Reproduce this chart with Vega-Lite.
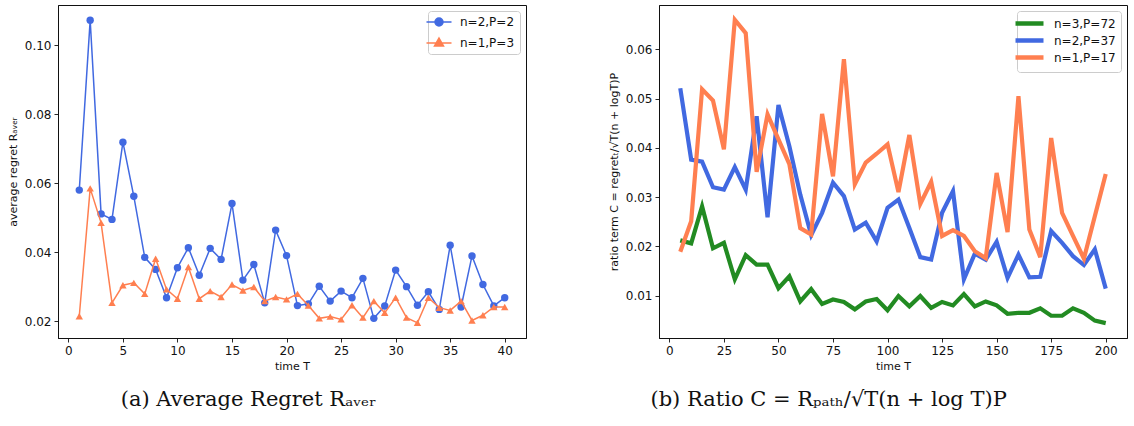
{
  "$schema": "https://vega.github.io/schema/vega-lite/v6.json",
  "background": "white",
  "padding": {"left": 6, "top": 4, "right": 5, "bottom": 5},
  "spacing": 80,
  "resolve": {"scale": {"color": "independent"}, "legend": {"color": "independent"}},
  "config": {
    "view": {"stroke": "#111", "strokeWidth": 1},
    "axis": {"grid": false, "domainColor": "#111", "domainWidth": 1, "tickColor": "#111", "tickSize": 4, "tickWidth": 0.9,
      "labelFont": "DejaVu Sans", "labelFontSize": 12, "labelColor": "#111", "labelPadding": 3,
      "titleFont": "DejaVu Sans", "titleFontSize": 11, "titleFontWeight": "normal", "titleColor": "#111"},
    "legend": {"labelFont": "DejaVu Sans", "labelFontSize": 12, "labelColor": "#111", "fillColor": "white", "strokeColor": "#cccccc",
      "cornerRadius": 3, "padding": 5, "rowPadding": 5, "orient": "top-right", "offset": 6, "title": null}
  },
  "datasets": {
    "a": [
      {"T":1,"s":"n=2,P=2","v":0.058},{"T":2,"s":"n=2,P=2","v":0.1073},{"T":3,"s":"n=2,P=2","v":0.0511},{"T":4,"s":"n=2,P=2","v":0.0495},{"T":5,"s":"n=2,P=2","v":0.0719},
      {"T":6,"s":"n=2,P=2","v":0.0562},{"T":7,"s":"n=2,P=2","v":0.0385},{"T":8,"s":"n=2,P=2","v":0.035},{"T":9,"s":"n=2,P=2","v":0.0268},{"T":10,"s":"n=2,P=2","v":0.0355},
      {"T":11,"s":"n=2,P=2","v":0.0413},{"T":12,"s":"n=2,P=2","v":0.0333},{"T":13,"s":"n=2,P=2","v":0.0411},{"T":14,"s":"n=2,P=2","v":0.0379},{"T":15,"s":"n=2,P=2","v":0.0541},
      {"T":16,"s":"n=2,P=2","v":0.0319},{"T":17,"s":"n=2,P=2","v":0.0364},{"T":18,"s":"n=2,P=2","v":0.0253},{"T":19,"s":"n=2,P=2","v":0.0464},{"T":20,"s":"n=2,P=2","v":0.039},
      {"T":21,"s":"n=2,P=2","v":0.0245},{"T":22,"s":"n=2,P=2","v":0.025},{"T":23,"s":"n=2,P=2","v":0.0301},{"T":24,"s":"n=2,P=2","v":0.0258},{"T":25,"s":"n=2,P=2","v":0.0287},
      {"T":26,"s":"n=2,P=2","v":0.0268},{"T":27,"s":"n=2,P=2","v":0.0324},{"T":28,"s":"n=2,P=2","v":0.0208},{"T":29,"s":"n=2,P=2","v":0.0244},{"T":30,"s":"n=2,P=2","v":0.0348},
      {"T":31,"s":"n=2,P=2","v":0.03},{"T":32,"s":"n=2,P=2","v":0.0246},{"T":33,"s":"n=2,P=2","v":0.0285},{"T":34,"s":"n=2,P=2","v":0.0234},{"T":35,"s":"n=2,P=2","v":0.042},
      {"T":36,"s":"n=2,P=2","v":0.0241},{"T":37,"s":"n=2,P=2","v":0.0389},{"T":38,"s":"n=2,P=2","v":0.0306},{"T":39,"s":"n=2,P=2","v":0.0244},{"T":40,"s":"n=2,P=2","v":0.0268},
      {"T":1,"s":"n=1,P=3","v":0.0214},{"T":2,"s":"n=1,P=3","v":0.0585},{"T":3,"s":"n=1,P=3","v":0.0485},{"T":4,"s":"n=1,P=3","v":0.0253},{"T":5,"s":"n=1,P=3","v":0.0304},
      {"T":6,"s":"n=1,P=3","v":0.0311},{"T":7,"s":"n=1,P=3","v":0.0279},{"T":8,"s":"n=1,P=3","v":0.0381},{"T":9,"s":"n=1,P=3","v":0.0292},{"T":10,"s":"n=1,P=3","v":0.0265},
      {"T":11,"s":"n=1,P=3","v":0.0357},{"T":12,"s":"n=1,P=3","v":0.0265},{"T":13,"s":"n=1,P=3","v":0.0287},{"T":14,"s":"n=1,P=3","v":0.027},{"T":15,"s":"n=1,P=3","v":0.0306},
      {"T":16,"s":"n=1,P=3","v":0.0289},{"T":17,"s":"n=1,P=3","v":0.0299},{"T":18,"s":"n=1,P=3","v":0.0258},{"T":19,"s":"n=1,P=3","v":0.027},{"T":20,"s":"n=1,P=3","v":0.0263},
      {"T":21,"s":"n=1,P=3","v":0.0279},{"T":22,"s":"n=1,P=3","v":0.0245},{"T":23,"s":"n=1,P=3","v":0.0208},{"T":24,"s":"n=1,P=3","v":0.0213},{"T":25,"s":"n=1,P=3","v":0.0205},
      {"T":26,"s":"n=1,P=3","v":0.0246},{"T":27,"s":"n=1,P=3","v":0.021},{"T":28,"s":"n=1,P=3","v":0.0258},{"T":29,"s":"n=1,P=3","v":0.0224},{"T":30,"s":"n=1,P=3","v":0.0268},
      {"T":31,"s":"n=1,P=3","v":0.021},{"T":32,"s":"n=1,P=3","v":0.0195},{"T":33,"s":"n=1,P=3","v":0.0268},{"T":34,"s":"n=1,P=3","v":0.0239},{"T":35,"s":"n=1,P=3","v":0.0231},
      {"T":36,"s":"n=1,P=3","v":0.0258},{"T":37,"s":"n=1,P=3","v":0.0202},{"T":38,"s":"n=1,P=3","v":0.0217},{"T":39,"s":"n=1,P=3","v":0.0241},{"T":40,"s":"n=1,P=3","v":0.0241}
    ],
    "b": [
      {"T":5,"s":"n=3,P=72","v":0.0212},{"T":10,"s":"n=3,P=72","v":0.0206},{"T":15,"s":"n=3,P=72","v":0.0281},{"T":20,"s":"n=3,P=72","v":0.0196},{"T":25,"s":"n=3,P=72","v":0.0207},
      {"T":30,"s":"n=3,P=72","v":0.0133},{"T":35,"s":"n=3,P=72","v":0.0182},{"T":40,"s":"n=3,P=72","v":0.0163},{"T":45,"s":"n=3,P=72","v":0.0163},{"T":50,"s":"n=3,P=72","v":0.0115},
      {"T":55,"s":"n=3,P=72","v":0.0139},{"T":60,"s":"n=3,P=72","v":0.0088},{"T":65,"s":"n=3,P=72","v":0.0113},{"T":70,"s":"n=3,P=72","v":0.0083},{"T":75,"s":"n=3,P=72","v":0.0092},
      {"T":80,"s":"n=3,P=72","v":0.0087},{"T":85,"s":"n=3,P=72","v":0.0072},{"T":90,"s":"n=3,P=72","v":0.0088},{"T":95,"s":"n=3,P=72","v":0.0093},{"T":100,"s":"n=3,P=72","v":0.007},
      {"T":105,"s":"n=3,P=72","v":0.0099},{"T":110,"s":"n=3,P=72","v":0.0078},{"T":115,"s":"n=3,P=72","v":0.0099},{"T":120,"s":"n=3,P=72","v":0.0075},{"T":125,"s":"n=3,P=72","v":0.0087},
      {"T":130,"s":"n=3,P=72","v":0.008},{"T":135,"s":"n=3,P=72","v":0.0103},{"T":140,"s":"n=3,P=72","v":0.0078},{"T":145,"s":"n=3,P=72","v":0.0088},{"T":150,"s":"n=3,P=72","v":0.008},
      {"T":155,"s":"n=3,P=72","v":0.0063},{"T":160,"s":"n=3,P=72","v":0.0065},{"T":165,"s":"n=3,P=72","v":0.0065},{"T":170,"s":"n=3,P=72","v":0.0074},{"T":175,"s":"n=3,P=72","v":0.0059},
      {"T":180,"s":"n=3,P=72","v":0.0059},{"T":185,"s":"n=3,P=72","v":0.0074},{"T":190,"s":"n=3,P=72","v":0.0065},{"T":195,"s":"n=3,P=72","v":0.0049},{"T":200,"s":"n=3,P=72","v":0.0044},
      {"T":5,"s":"n=2,P=37","v":0.0521},{"T":10,"s":"n=2,P=37","v":0.0376},{"T":15,"s":"n=2,P=37","v":0.0372},{"T":20,"s":"n=2,P=37","v":0.032},{"T":25,"s":"n=2,P=37","v":0.0315},
      {"T":30,"s":"n=2,P=37","v":0.0361},{"T":35,"s":"n=2,P=37","v":0.0315},{"T":40,"s":"n=2,P=37","v":0.0464},{"T":45,"s":"n=2,P=37","v":0.0259},{"T":50,"s":"n=2,P=37","v":0.0487},
      {"T":55,"s":"n=2,P=37","v":0.0403},{"T":60,"s":"n=2,P=37","v":0.0305},{"T":65,"s":"n=2,P=37","v":0.0223},{"T":70,"s":"n=2,P=37","v":0.0268},{"T":75,"s":"n=2,P=37","v":0.0329},
      {"T":80,"s":"n=2,P=37","v":0.0302},{"T":85,"s":"n=2,P=37","v":0.0234},{"T":90,"s":"n=2,P=37","v":0.0248},{"T":95,"s":"n=2,P=37","v":0.021},{"T":100,"s":"n=2,P=37","v":0.0278},
      {"T":105,"s":"n=2,P=37","v":0.0295},{"T":110,"s":"n=2,P=37","v":0.0237},{"T":115,"s":"n=2,P=37","v":0.0178},{"T":120,"s":"n=2,P=37","v":0.0173},{"T":125,"s":"n=2,P=37","v":0.0268},
      {"T":130,"s":"n=2,P=37","v":0.0312},{"T":135,"s":"n=2,P=37","v":0.0133},{"T":140,"s":"n=2,P=37","v":0.0185},{"T":145,"s":"n=2,P=37","v":0.0173},{"T":150,"s":"n=2,P=37","v":0.0209},
      {"T":155,"s":"n=2,P=37","v":0.0136},{"T":160,"s":"n=2,P=37","v":0.0183},{"T":165,"s":"n=2,P=37","v":0.0137},{"T":170,"s":"n=2,P=37","v":0.0138},{"T":175,"s":"n=2,P=37","v":0.0231},
      {"T":180,"s":"n=2,P=37","v":0.0207},{"T":185,"s":"n=2,P=37","v":0.018},{"T":190,"s":"n=2,P=37","v":0.0162},{"T":195,"s":"n=2,P=37","v":0.0194},{"T":200,"s":"n=2,P=37","v":0.0114},
      {"T":5,"s":"n=1,P=17","v":0.0189},{"T":10,"s":"n=1,P=17","v":0.0251},{"T":15,"s":"n=1,P=17","v":0.0519},{"T":20,"s":"n=1,P=17","v":0.0496},{"T":25,"s":"n=1,P=17","v":0.0397},
      {"T":30,"s":"n=1,P=17","v":0.066},{"T":35,"s":"n=1,P=17","v":0.0633},{"T":40,"s":"n=1,P=17","v":0.0351},{"T":45,"s":"n=1,P=17","v":0.0468},{"T":50,"s":"n=1,P=17","v":0.0417},
      {"T":55,"s":"n=1,P=17","v":0.0367},{"T":60,"s":"n=1,P=17","v":0.0237},{"T":65,"s":"n=1,P=17","v":0.0224},{"T":70,"s":"n=1,P=17","v":0.0469},{"T":75,"s":"n=1,P=17","v":0.0342},
      {"T":80,"s":"n=1,P=17","v":0.058},{"T":85,"s":"n=1,P=17","v":0.0326},{"T":90,"s":"n=1,P=17","v":0.037},{"T":95,"s":"n=1,P=17","v":0.0388},{"T":100,"s":"n=1,P=17","v":0.0407},
      {"T":105,"s":"n=1,P=17","v":0.031},{"T":110,"s":"n=1,P=17","v":0.0426},{"T":115,"s":"n=1,P=17","v":0.0286},{"T":120,"s":"n=1,P=17","v":0.0331},{"T":125,"s":"n=1,P=17","v":0.0221},
      {"T":130,"s":"n=1,P=17","v":0.0233},{"T":135,"s":"n=1,P=17","v":0.0221},{"T":140,"s":"n=1,P=17","v":0.019},{"T":145,"s":"n=1,P=17","v":0.0176},{"T":150,"s":"n=1,P=17","v":0.0349},
      {"T":155,"s":"n=1,P=17","v":0.0229},{"T":160,"s":"n=1,P=17","v":0.0505},{"T":165,"s":"n=1,P=17","v":0.0234},{"T":170,"s":"n=1,P=17","v":0.0178},{"T":175,"s":"n=1,P=17","v":0.042},
      {"T":180,"s":"n=1,P=17","v":0.0268},{"T":185,"s":"n=1,P=17","v":0.0221},{"T":190,"s":"n=1,P=17","v":0.0175},{"T":195,"s":"n=1,P=17","v":0.0261},{"T":200,"s":"n=1,P=17","v":0.0347}
    ]
  },
  "hconcat": [
    {
      "width": 468, "height": 333,
      "data": {"name": "a"},
      "title": {"text": "(a)  Average Regret Rₐᵥₑᵣ", "orient": "bottom", "anchor": "middle", "frame": "bounds", "font": "DejaVu Serif", "fontSize": 21, "fontWeight": "normal", "color": "#111", "offset": 18, "dx": -18},
      "encoding": {
        "x": {"field": "T", "type": "quantitative", "scale": {"domain": [-0.95, 41.95], "nice": false, "zero": false}, "axis": {"title": "time T", "values": [0,5,10,15,20,25,30,35,40], "titlePadding": 4}},
        "y": {"field": "v", "type": "quantitative", "scale": {"domain": [0.0151, 0.1117], "nice": false, "zero": false}, "axis": {"title": "average regret Rₐᵥₑᵣ", "values": [0.02,0.04,0.06,0.08,0.10], "format": ".2f", "titlePadding": 6}},
        "color": {"field": "s", "type": "nominal", "scale": {"domain": ["n=2,P=2", "n=1,P=3"], "range": ["#4169E1", "#FF7F50"]},
          "legend": {"symbolSize": 100, "symbolStrokeWidth": 1.5, "labelOffset": 15, "rowPadding": 6,
            "encode": {"symbols": {"update": {
              "shape": {"signal": "datum.value === 'n=2,P=2' ? 'M-2.5,0H2.5M0.8,0A0.8,0.8,0,1,1,-0.8,0A0.8,0.8,0,1,1,0.8,0Z' : 'M-2.5,0H2.5M0,-1L0.9,0.6H-0.9Z'"},
              "fill": {"signal": "datum.value === 'n=2,P=2' ? '#4169E1' : '#FF7F50'"},
              "stroke": {"signal": "datum.value === 'n=2,P=2' ? '#4169E1' : '#FF7F50'"},
              "strokeWidth": {"value": 1.5}, "opacity": {"value": 1}, "fillOpacity": {"value": 1}, "strokeOpacity": {"value": 1}}}}}}
      },
      "layer": [
        {"transform": [{"filter": "datum.s == 'n=2,P=2'"}], "mark": {"type": "line", "strokeWidth": 1.5}},
        {"transform": [{"filter": "datum.s == 'n=2,P=2'"}], "mark": {"type": "point", "shape": "circle", "filled": true, "opacity": 1, "size": 55}},
        {"transform": [{"filter": "datum.s == 'n=1,P=3'"}], "mark": {"type": "line", "strokeWidth": 1.5}},
        {"transform": [{"filter": "datum.s == 'n=1,P=3'"}], "mark": {"type": "point", "shape": "triangle-up", "filled": true, "opacity": 1, "size": 55}}
      ]
    },
    {
      "width": 468, "height": 333,
      "data": {"name": "b"},
      "title": {"text": "(b)  Ratio C = Rₚₐₜₕ/√T(n + log T)P", "orient": "bottom", "anchor": "middle", "frame": "bounds", "font": "DejaVu Serif", "fontSize": 21, "fontWeight": "normal", "color": "#111", "offset": 18, "dx": -39},
      "encoding": {
        "x": {"field": "T", "type": "quantitative", "scale": {"domain": [-4.75, 209.75], "nice": false, "zero": false}, "axis": {"title": "time T", "values": [0,25,50,75,100,125,150,175,200], "titlePadding": 4}},
        "y": {"field": "v", "type": "quantitative", "scale": {"domain": [0.00138, 0.069], "nice": false, "zero": false}, "axis": {"title": "ratio term  C = regretₜ/√T(n + logT)P", "values": [0.01,0.02,0.03,0.04,0.05,0.06], "format": ".2f", "titlePadding": 6}},
        "color": {"field": "s", "type": "nominal", "scale": {"domain": ["n=3,P=72", "n=2,P=37", "n=1,P=17"], "range": ["#228B22", "#4169E1", "#FF7F50"]},
          "legend": {"symbolType": "M-2.8,0H2.8", "symbolSize": 100, "symbolStrokeWidth": 4.5, "labelOffset": 17, "rowPadding": -2.5}}
      },
      "layer": [
        {"mark": {"type": "line", "strokeWidth": 4.2}}
      ]
    }
  ]
}
